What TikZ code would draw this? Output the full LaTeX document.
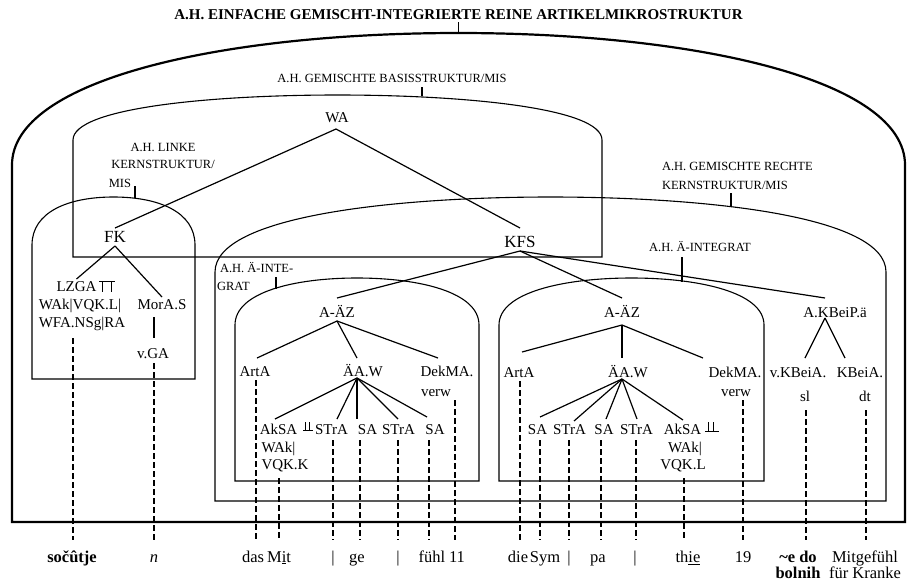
\documentclass[tikz,border=0pt]{standalone}
\usepackage{fontspec}
\setmainfont{Liberation Serif}
\usetikzlibrary{calc}
\begin{document}
\begin{tikzpicture}[x=1pt,y=-1pt,
  every node/.style={inner sep=0pt, outer sep=0pt},
  outerln/.style={line width=2.2pt},
  boxln/.style={line width=1.1pt},
  treeln/.style={line width=1.2pt},
  symln/.style={line width=1pt},
  dashln/.style={line width=1.2pt, dash pattern=on 5.5pt off 3.5pt},
  ttl/.style={font=\fontsize{15}{17}\selectfont\bfseries},
  boxlbl/.style={font=\fontsize{12.5}{14}\selectfont},
  big/.style={font=\fontsize{17}{19}\selectfont, text height=12pt, text depth=2pt, outer sep=2pt},
  lab/.style={font=\fontsize{15}{17}\selectfont, text height=11pt, text depth=2pt, outer sep=1.5pt},
  wrd/.style={font=\fontsize{16.5}{18}\selectfont, text height=12pt, text depth=3.5pt, outer sep=10pt},
]
\useasboundingbox (0,0) rectangle (909,582);

% ---------- outer structure ----------
\draw[outerln] (12,522) -- (12,165) .. controls (12,80) and (220,33) .. (458.5,33)
  .. controls (697,33) and (905,80) .. (905,165) -- (905,522) -- cycle;
\node[ttl] (title) at (458.5,15) {A.H. EINFACHE GEMISCHT-INTEGRIERTE REINE ARTIKELMIKROSTRUKTUR};
\coordinate (otop) at (458.5,33);
\draw[line width=1.6pt] ($(title.south)+(0,2)$) -- (otop);

% ---------- basis structure ----------
\draw[boxln] (73,257) -- (73,140) .. controls (73,108) and (210,95) .. (337.5,95)
  .. controls (465,95) and (602,108) .. (602,140) -- (602,257) -- cycle;
\node[boxlbl] (labB) at (392,78) {A.H. GEMISCHTE BASISSTRUKTUR/MIS};
\coordinate (bT) at (422,95.5);
\draw[boxln] ($(bT |- labB.south)+(0,5)$) -- (bT);

% ---------- left core structure ----------
\draw[boxln] (32,379) -- (32,245) .. controls (32,212) and (68,197) .. (113.5,197)
  .. controls (159,197) and (195,212) .. (195,245) -- (195,379) -- cycle;
\node[boxlbl] (linkeA) at (163,147) {A.H. LINKE};
\node[boxlbl] (linkeB) at (163,164) {KERNSTRUKTUR/};
\node[boxlbl] (linkeC) at (120,183) {MIS};
\coordinate (lT) at (135,197.5);
\draw[boxln] ($(lT |- linkeC.center)+(0,3)$) -- (lT);

% ---------- right core structure ----------
\draw[boxln] (215,501) -- (215,272) .. controls (215,215) and (400,197) .. (550.5,197)
  .. controls (701,197) and (886,215) .. (886,272) -- (886,501) -- cycle;
\node[boxlbl,anchor=west] (rechteA) at (662,166) {A.H. GEMISCHTE RECHTE};
\node[boxlbl,anchor=west] (rechteB) at (662,185) {KERNSTRUKTUR/MIS};
\coordinate (rT) at (731,207);
\draw[boxln] ($(rT |- rechteB.south)+(0,4)$) -- (rT);

% ---------- first integrate ----------
\draw[boxln] (235,481) -- (235,325) .. controls (235,292) and (295,278) .. (357,278)
  .. controls (419,278) and (479,292) .. (479,325) -- (479,481) -- cycle;
\node[boxlbl,anchor=west] (intA) at (220,268) {A.H. Ä-INTE-};
\node[boxlbl,anchor=west] (intB) at (217,286) {GRAT};
\coordinate (iT) at (276,289);
\draw[boxln] ($(iT |- intA.south)+(0,4)$) -- (iT);

% ---------- second integrate ----------
\draw[boxln] (499,481) -- (499,325) .. controls (499,292) and (565,278) .. (631.5,278)
  .. controls (698,278) and (764,292) .. (764,325) -- (764,481) -- cycle;
\node[boxlbl] (intC) at (700,247) {A.H. Ä-INTEGRAT};
\coordinate (jT) at (682,281.5);
\draw[boxln] ($(jT |- intC.south)+(0,5)$) -- (jT);

% ---------- top tree ----------
\node[lab] (WA) at (337,118) {WA};
\node[big] (FK) at (115,237) {FK};
\node[big] (KFS) at (520,242) {KFS};
\draw[treeln] ($(WA.south)+(-1,3)$) -- (FK.north);
\draw[treeln] ($(WA.south)+(-1,3)$) -- ($(KFS.north)+(0,-5)$);

% ---------- FK subtree ----------
\node[lab] (LZGA) at (76.5,287) {LZGA};
\node[lab] (WAkA) at (80,305) {WAk|VQK.L|};
\node[lab] (WFA) at (82,323) {WFA.NSg|RA};
\node[lab] (Mor) at (162,305) {MorA.S};
\node[lab] (vGA) at (153,354) {v.GA};
\draw[treeln] (FK.south) -- (LZGA.north);
\draw[treeln] (FK.south) -- (Mor.north);
\draw[treeln] ($(vGA.north |- Mor.south)+(1,4)$) -- ($(vGA.north)+(1,-8)$);
\draw[symln] (99,281) -- (115,281) (102.5,281) -- (102.5,292) (111,281) -- (111,292);

% ---------- KFS subtree ----------
\node[lab] (AZa) at (337,313) {A-ÄZ};
\node[lab] (AZb) at (622,313) {A-ÄZ};
\node[lab] (KB) at (835,313) {A.KBeiP.ä};
\draw[treeln] (KFS.south) -- ($(AZa.north)+(0,-7)$);
\draw[treeln] (KFS.south) -- ($(AZb.north)+(0,-7)$);
\draw[treeln] (KFS.south) -- ($(KB.north)+(-10,-7)$);

% left A-AZ
\node[lab] (ArtA1) at (255,372) {ArtA};
\node[lab] (AW1) at (363,372) {ÄA.W};
\node[lab] (Dek1) at (447,372) {DekMA.};
\node[lab] (verw1) at (436,392) {verw};
\draw[treeln] (AZa.south) -- ($(ArtA1.north)+(2,-6)$);
\draw[treeln] (AZa.south) -- ($(AW1.north)+(-6,-6)$);
\draw[treeln] (AZa.south) -- ($(Dek1.north)+(-9,-6)$);

\node[lab] (Ak1) at (278.5,430) {AkSA};
\node[lab] (St1) at (331.5,430) {STrA};
\node[lab] (Sa1) at (367.5,430) {SA};
\node[lab] (St2) at (398.5,430) {STrA};
\node[lab] (Sa2) at (435,430) {SA};
\node[lab,anchor=west] (Wk1) at (260,448) {WAk|};
\node[lab,anchor=west] (VQ1) at (260,465) {VQK.K};
\draw[symln] (303,430.5) -- (313,430.5) (305.5,422) -- (305.5,430.5) (309.5,422) -- (309.5,430.5);
\coordinate (ap1) at ($(AW1.south)+(-6,-2)$);
\draw[treeln] (ap1) -- ($(Ak1.north)+(-3.5,-3)$);
\draw[treeln] (ap1) -- ($(St1.north)+(5.5,-3)$);
\draw[treeln] (ap1) -- ($(Sa1.north)+(-10.5,-3)$);
\draw[treeln] (ap1) -- ($(St2.north)+(-0.5,-3)$);
\draw[treeln] (ap1) -- ($(Sa2.north)+(-8,-5)$);

% right A-AZ
\node[lab] (ArtA2) at (519,373) {ArtA};
\node[lab] (AW2) at (628,373) {ÄA.W};
\node[lab] (Dek2) at (735,373) {DekMA.};
\node[lab] (verw2) at (736,392) {verw};
\coordinate (apz) at ($(AZb.south)+(0,4)$);
\draw[treeln] (apz) -- ($(ArtA2.north)+(3,-13)$);
\draw[treeln] (apz) -- ($(AW2.north)+(-6,-7)$);
\draw[treeln] (apz) -- ($(Dek2.north)+(-32,-7)$);

\node[lab] (Sa3) at (537.5,430) {SA};
\node[lab] (St3) at (569.5,430) {STrA};
\node[lab] (Sa4) at (604,430) {SA};
\node[lab] (St4) at (636.5,430) {STrA};
\node[lab] (Ak2) at (682.5,430) {AkSA};
\node[lab] (Wk2) at (685,448) {WAk|};
\node[lab] (VQ2) at (683,465) {VQK.L};
\draw[symln] (705,431) -- (719,431) (708,422) -- (708,431) (713,422) -- (713,431);
\coordinate (ap2) at ($(AW2.south)+(-6,-2)$);
\draw[treeln] (ap2) -- ($(Sa3.north)+(2.5,-5)$);
\draw[treeln] (ap2) -- ($(St3.north)+(4.5,-1)$);
\draw[treeln] (ap2) -- ($(Sa4.north)+(2,-3)$);
\draw[treeln] (ap2) -- ($(St4.north)+(0.5,-3)$);
\draw[treeln] (ap2) -- ($(Ak2.north)+(0.5,-2)$);

% A.KBeiP.a
\node[lab] (vKB) at (798,373) {v.KBeiA.};
\node[lab] (KBA) at (860,373) {KBeiA.};
\node[lab] (sl) at (805,397) {sl};
\node[lab] (dt) at (865,397) {dt};
\coordinate (apk) at ($(KB.south)+(-10,-3)$);
\draw[treeln] (apk) -- ($(vKB.north)+(7,-7)$);
\draw[treeln] (apk) -- ($(KBA.north)+(-15,-7)$);

% ---------- bottom words ----------
\node[wrd] (socutje) at (72,558) {\textbf{sočûtje}};
\node[wrd] (nn) at (154,558) {\textit{n}};
\node[wrd] (das) at (253,558) {das};
\node[wrd] (Mit) at (279,558) {M\underline{i}t};
\node[wrd] (barA) at (333,558) {|};
\node[wrd] (ge) at (357,558) {ge};
\node[wrd] (barB) at (398,558) {|};
\node[wrd] (fuehl) at (432,558) {fühl};
\node[wrd] (elf) at (457,558) {11};
\node[wrd] (die) at (518,558) {die};
\node[wrd] (Sym) at (545,558) {Sym};
\node[wrd] (barC) at (569,558) {|};
\node[wrd] (pa) at (598,558) {pa};
\node[wrd] (barD) at (635,558) {|};
\node[wrd] (thie) at (688,558) {th\underline{ie}};
\node[wrd] (neunz) at (743,558) {19};
\node[wrd] (edo) at (798,558) {\textbf{\textasciitilde e do}};
\node[wrd] (bolnih) at (798,574) {\textbf{bolnih}};
\node[wrd] (mitg) at (865,558) {Mitgefühl};
\node[wrd] (kranke) at (865,574) {für Kranke};

% ---------- dashed drop lines ----------
\draw[dashln] ($(socutje.north |- WFA.south)+(1,7)$) -- ($(socutje.north)+(1,0)$);
\draw[dashln] ($(nn.north |- vGA.south)+(0,1)$) -- (nn.north);
\draw[dashln] ($(das.north |- ArtA1.south)+(3,0)$) -- ($(das.north)+(3,0)$);
\draw[dashln] ($(Mit.north |- VQ1.south)+(0,5)$) -- (Mit.north);
\draw[dashln] ($(barA.north |- St1.south)+(0,2)$) -- (barA.north);
\draw[dashln] ($(ge.north |- Sa1.south)+(3,2)$) -- ($(ge.north)+(3,0)$);
\draw[dashln] ($(barB.north |- St2.south)+(0,2)$) -- (barB.north);
\draw[dashln] ($(fuehl.north |- Sa2.south)+(-3,2)$) -- ($(fuehl.north)+(-3,0)$);
\draw[dashln] ($(elf.north |- verw1.south)+(-2,0)$) -- ($(elf.north)+(-2,0)$);
\draw[dashln] ($(die.north |- ArtA2.south)+(2,0)$) -- ($(die.north)+(2,0)$);
\draw[dashln] ($(Sym.north |- Sa3.south)+(-5,2)$) -- ($(Sym.north)+(-5,0)$);
\draw[dashln] ($(barC.north |- St3.south)+(0,2)$) -- (barC.north);
\draw[dashln] ($(pa.north |- Sa4.south)+(3,2)$) -- ($(pa.north)+(3,0)$);
\draw[dashln] ($(barD.north |- St4.south)+(1,2)$) -- ($(barD.north)+(1,0)$);
\draw[dashln] ($(thie.north |- VQ2.south)+(-4,5)$) -- ($(thie.north)+(-4,0)$);
\draw[dashln] ($(neunz.north |- verw2.south)+(0,0)$) -- (neunz.north);
\draw[dashln] ($(edo.north |- sl.south)+(8,5)$) -- ($(edo.north)+(8,0)$);
\draw[dashln] ($(mitg.north |- dt.south)+(1,5)$) -- ($(mitg.north)+(1,0)$);
\end{tikzpicture}
\end{document}
